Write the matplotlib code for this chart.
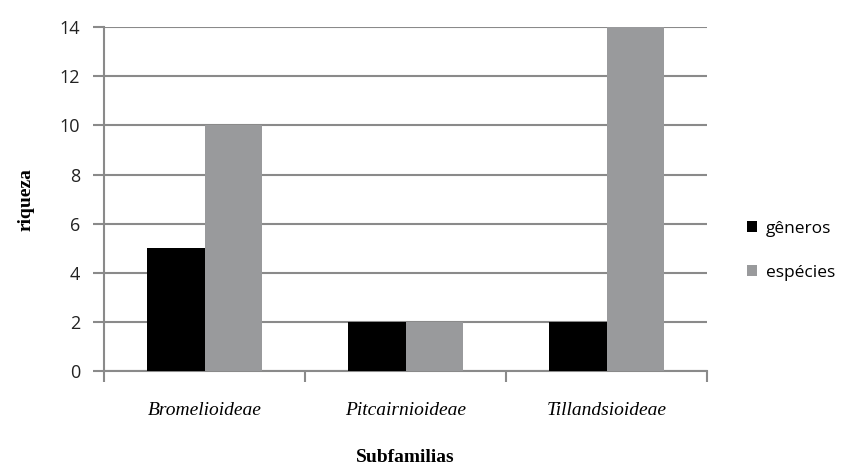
import matplotlib.pyplot as plt
import numpy as np

subfamilias = ['Bromelioideae', 'Pitcairnioideae', 'Tillandsioideae']
generos = [5, 2, 2]
especies = [10, 2, 14]

fig = plt.figure(figsize=(8.63, 4.69), dpi=100)
ax = fig.add_axes([0.1205, 0.209, 0.699, 0.733])

x = np.arange(len(subfamilias))
w = 0.285
ax.bar(x - w / 2, generos, w, color='black', label='gêneros', zorder=3)
ax.bar(x + w / 2, especies, w, color='#999a9c', label='espécies', zorder=3)

ax.set_xlim(-0.5, len(subfamilias) - 0.5)
ax.set_ylim(0, 14)
ax.set_yticks(range(0, 15, 2))
ax.yaxis.grid(True, color='#8a8a8a', linewidth=1.5, zorder=0)

# category labels on major ticks, separators on minor ticks
ax.set_xticks(x)
ax.set_xticklabels(subfamilias, family='Liberation Serif', style='italic', fontsize=14)
ax.set_xticks(np.arange(-0.5, len(subfamilias)), minor=True)
ax.tick_params(axis='x', which='major', length=0, pad=22)
ax.tick_params(axis='x', which='minor', length=8, width=1.5, color='#8a8a8a')
ax.tick_params(axis='y', length=8, width=1.5, color='#8a8a8a', pad=9)
for lab in ax.get_yticklabels():
    lab.set_family('Open Sans')
    lab.set_fontsize(13)
    lab.set_color('#222222')

for side in ['top', 'right']:
    ax.spines[side].set_visible(False)
for side in ['left', 'bottom']:
    ax.spines[side].set_color('#8a8a8a')
    ax.spines[side].set_linewidth(1.5)

ax.set_xlabel('Subfamilias', family='Liberation Serif', fontweight='bold', fontsize=14, labelpad=22)
ax.set_ylabel('riqueza', family='Liberation Serif', fontweight='bold', fontsize=14, labelpad=18)

ax.legend(loc='center left', bbox_to_anchor=(1.04, 0.35), frameon=False,
          prop={'family': 'Open Sans', 'size': 12.5}, handlelength=0.6, handleheight=0.6,
          handletextpad=0.5, labelspacing=1.6)

fig.savefig('out.png', dpi=100)
